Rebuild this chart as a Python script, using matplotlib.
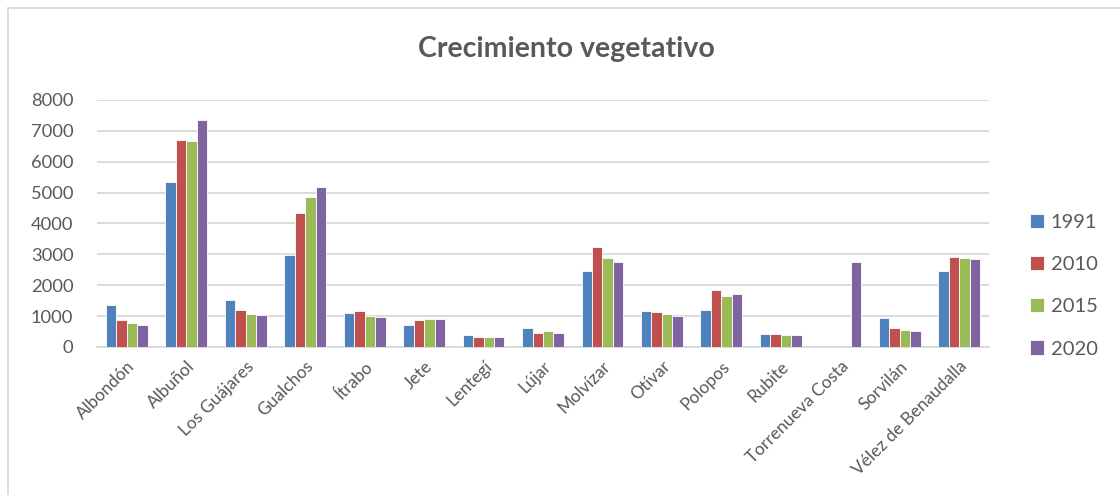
import matplotlib.pyplot as plt
import numpy as np
from matplotlib.patches import Rectangle

# Data
municipios = ["Albondón", "Albuñol", "Los Guájares", "Gualchos", "Ítrabo", "Jete",
              "Lentegí", "Lújar", "Molvízar", "Otívar", "Polopos", "Rubite",
              "Torrenueva Costa", "Sorvilán", "Vélez de Benaudalla"]
years = ["1991", "2010", "2015", "2020"]
v1991 = [1350, 5330, 1515, 2975, 1105, 725, 380, 615, 2465, 1150, 1195, 420, 0, 945, 2465]
v2010 = [875, 6700, 1190, 4325, 1155, 885, 335, 440, 3250, 1120, 1840, 430, 0, 600, 2905]
v2015 = [770, 6670, 1080, 4845, 1015, 895, 335, 505, 2870, 1075, 1665, 375, 0, 550, 2890]
v2020 = [705, 7350, 1050, 5190, 985, 920, 325, 460, 2755, 1000, 1710, 375, 2765, 525, 2860]
series = [v1991, v2010, v2015, v2020]
colors = ["#4F81BD", "#C0504D", "#9BBB59", "#8064A2"]

plt.rcParams['font.family'] = ['Lato', 'DejaVu Sans']
text_color = "#595959"

fig = plt.figure(figsize=(11.2, 4.95), dpi=100)
ax = fig.add_axes([0.0866, 0.299, 0.7964, 0.499])

# Grouped bars
x = np.arange(len(municipios))
width = 0.176
for i, (vals, col, yr) in enumerate(zip(series, colors, years)):
    offs = (i - 1.5) * width
    ax.bar(x + offs, vals, width, color=col, edgecolor="white", linewidth=0.6,
           label=yr, zorder=3)

ax.set_xlim(-0.5, len(municipios) - 0.5)
ax.set_ylim(0, 8000)
ax.set_yticks(range(0, 8001, 1000))
ax.grid(axis='y', color="#D9D9D9", linewidth=1.3, zorder=0)
for s in ["top", "right", "left"]:
    ax.spines[s].set_visible(False)
ax.spines["bottom"].set_color("#D9D9D9")
ax.spines["bottom"].set_linewidth(1.3)
ax.tick_params(length=0, colors=text_color, labelsize=12.5)
ax.tick_params(axis='y', labelsize=13.2, pad=17)
ax.set_xticks(x)
ax.set_xticklabels(municipios, rotation=45, ha='right', rotation_mode='anchor')
ax.tick_params(axis='x', pad=8)

fig.text(0.506, 0.900, "Crecimiento vegetativo", ha='center', va='center',
         fontsize=20.5, fontweight='bold', color=text_color)

leg = fig.legend(loc='center left', bbox_to_anchor=(0.920, 0.423), frameon=False,
                 fontsize=14.5, handlelength=0.7, handleheight=0.7,
                 handletextpad=0.3, labelspacing=1.25, borderpad=0, borderaxespad=0)
for t in leg.get_texts():
    t.set_color(text_color)

# Chart area border (right/bottom edges fall outside the canvas)
fig.patches.append(Rectangle((8 / 1120, -0.1), 1.2, 1 - 8 / 495 + 0.1,
                             transform=fig.transFigure, fill=False,
                             edgecolor="#D9D9D9", linewidth=1.3))

fig.savefig("out.png", dpi=100)
